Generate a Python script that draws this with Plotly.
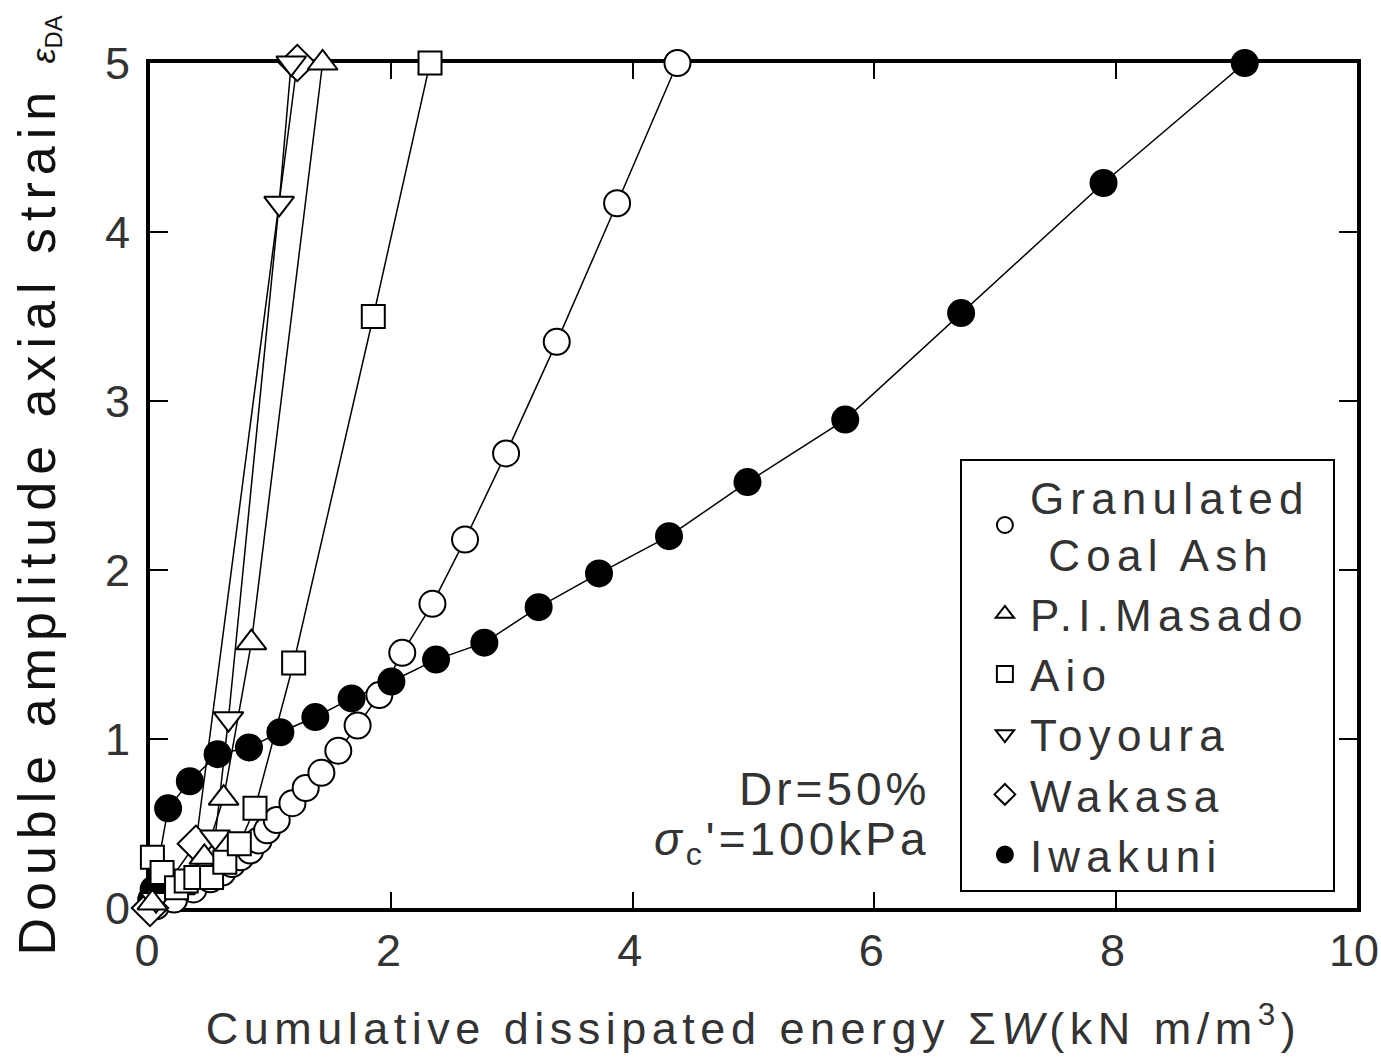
import plotly.graph_objects as go

# Cumulative dissipated energy ΣW (kN m/m^3) vs double amplitude axial strain εDA (%)
coal_ash_w = [0.05, 0.20, 0.36, 0.50, 0.60, 0.68, 0.75, 0.83, 0.90, 0.97, 1.05, 1.18,
              1.29, 1.42, 1.56, 1.72, 1.90, 2.09, 2.34, 2.61, 2.95, 3.37, 3.87, 4.37]
coal_ash_e = [0.01, 0.05, 0.11, 0.17, 0.21, 0.26, 0.30, 0.34, 0.40, 0.46, 0.52, 0.62,
              0.71, 0.80, 0.93, 1.08, 1.26, 1.51, 1.80, 2.18, 2.69, 3.35, 4.17, 5.00]

masado_w = [0.02, 0.25, 0.45, 0.61, 0.84, 1.43]
masado_e = [0.03, 0.12, 0.30, 0.65, 1.57, 5.00]

aio_w = [0.02, 0.10, 0.22, 0.30, 0.38, 0.51, 0.62, 0.74, 0.87, 1.19, 1.85, 2.32]
aio_e = [0.30, 0.21, 0.12, 0.16, 0.18, 0.18, 0.27, 0.38, 0.59, 1.45, 3.50, 5.00]

toyoura_w = [0.05, 0.30, 0.54, 0.65, 1.07, 1.17]
toyoura_e = [0.05, 0.17, 0.42, 1.12, 4.17, 5.00]

wakasa_w = [0.00, 0.38, 1.22]
wakasa_e = [0.00, 0.38, 5.00]

iwakuni_w = [0.01, 0.03, 0.15, 0.33, 0.56, 0.82, 1.08, 1.37, 1.67, 2.00, 2.37, 2.77,
             3.22, 3.72, 4.30, 4.95, 5.76, 6.72, 7.90, 9.07]
iwakuni_e = [0.05, 0.11, 0.59, 0.75, 0.91, 0.95, 1.04, 1.13, 1.24, 1.34, 1.47, 1.57,
             1.78, 1.98, 2.20, 2.52, 2.89, 3.52, 4.29, 5.00]

x_ticks = [0, 2, 4, 6, 8, 10]
y_ticks = [0, 1, 2, 3, 4, 5]

FONT = "Liberation Sans"
INK = "#333333"
LS = 6.2  # letter spacing used for legend entries


def spaced(text, px):
    return f"<span style='letter-spacing:{px}px'>{text}</span>"


# (legend label, x, y, marker symbol, marker size, fill colour, legend position)
materials = [
    (spaced("Granulated", LS) + "<br>" + spaced("\u00a0Coal Ash", LS),
     coal_ash_w, coal_ash_e, "circle", 26, "white", 1),
    (spaced("Iwakuni", LS), iwakuni_w, iwakuni_e, "circle", 26, "black", 6),
    (spaced("Wakasa", LS), wakasa_w, wakasa_e, "diamond", 28, "white", 5),
    (spaced("Toyoura", LS), toyoura_w, toyoura_e, "triangle-down", 26, "white", 4),
    (spaced("P.I.Masado\u00a0", LS), masado_w, masado_e, "triangle-up", 26, "white", 2),
    (spaced("Aio", LS), aio_w, aio_e, "square", 23, "white", 3),
]

fig = go.Figure()

# connecting lines first, so every marker sits on top of them
for name, xs, ys, symbol, size, fill, rank in materials:
    fig.add_trace(go.Scatter(
        x=xs, y=ys, mode="lines", showlegend=False, hoverinfo="skip",
        line=dict(color="black", width=1.5), cliponaxis=False,
    ))

for name, xs, ys, symbol, size, fill, rank in materials:
    fig.add_trace(go.Scatter(
        x=xs, y=ys, name=name, mode="markers",
        marker=dict(symbol=symbol, size=size, color=fill,
                    line=dict(color="black", width=2)),
        cliponaxis=False, legendrank=rank,
    ))

axis_common = dict(
    showline=True, linewidth=4, linecolor="black", mirror="ticks",
    ticks="inside", tickwidth=2, tickcolor="black",
    showgrid=False, zeroline=False, layer="below traces",
    tickfont=dict(family=FONT, size=45, color=INK),
    ticklabeloverflow="allow", automargin=False,
)

fig.update_xaxes(
    range=[0, 10], tickvals=x_ticks, ticklen=16, ticklabelstandoff=0,
    ticklabelshift=-3,
    title=dict(text=spaced("Cumulative dissipated energy Σ<i>W</i>(kN m/m<sup>3</sup>)", 5.5),
               font=dict(family=FONT, size=45, color=INK), standoff=38),
    **axis_common,
)
fig.update_yaxes(
    range=[0, 5], tickvals=y_ticks, ticklen=18, ticklabelstandoff=7,
    title=dict(text=spaced("Double amplitude axial strain ", 7)
               + "<span style='font-size:34px'><i>ε</i><sub>DA</sub></span>",
               font=dict(family=FONT, size=52, color="#111111"), standoff=34),
    **axis_common,
)

fig.add_annotation(x=0.648, y=0.108, xref="paper", yref="paper", xanchor="right", yanchor="bottom",
                   text=spaced("Dr=50%", 4), showarrow=False,
                   font=dict(family=FONT, size=46, color=INK))
fig.add_annotation(x=0.648, y=0.04, xref="paper", yref="paper", xanchor="right", yanchor="bottom",
                   text=spaced("<i>σ</i><sub>c</sub>'=100kPa", 4), showarrow=False,
                   font=dict(family=FONT, size=46, color=INK))

fig.update_layout(
    width=1381, height=1060,
    margin=dict(l=150, r=24, t=63, b=152, autoexpand=False),
    paper_bgcolor="white", plot_bgcolor="white",
    showlegend=True,
    legend=dict(x=0.671, y=0.531, xanchor="left", yanchor="top",
                bgcolor="white", bordercolor="black", borderwidth=2,
                font=dict(family=FONT, size=44, color=INK),
                itemsizing="trace", itemwidth=40, indentation=18,
                tracegroupgap=0),
)

fig.write_html("out.html")
